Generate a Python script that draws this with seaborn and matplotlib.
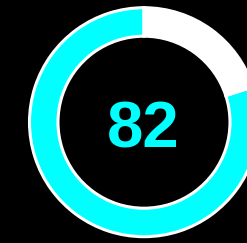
import matplotlib
matplotlib.use("Agg")
import matplotlib.pyplot as plt
import seaborn as sns

# Data
score_label = "82"
arc_labels = ["score", "rest"]
arc_values = [80, 20]
arc_colors = ["#00FFFF", "#FFFFFF"]

sns.set_style("white")
plt.rcParams['font.family'] = ['Liberation Sans', 'DejaVu Sans']

W, H = 247, 243
fig = plt.figure(figsize=(W / 100, H / 100), dpi=100, facecolor="black")
ax = fig.add_axes([0, 0, 1, 1])
ax.set_facecolor("black")

ax.pie(arc_values, colors=arc_colors, startangle=90, counterclock=True,
       center=(144, 120.8), radius=114.5,
       wedgeprops=dict(width=28.5, edgecolor="white", linewidth=2.2))
ax.set_xlim(0, W)
ax.set_ylim(0, H)
ax.set_aspect("equal")
ax.axis("off")

ax.text(143.5, 243 - 147, score_label, color="#00FFFF", fontsize=47,
        fontweight="bold", ha="center", va="baseline")

fig.savefig("out.png", dpi=100, facecolor="black")
